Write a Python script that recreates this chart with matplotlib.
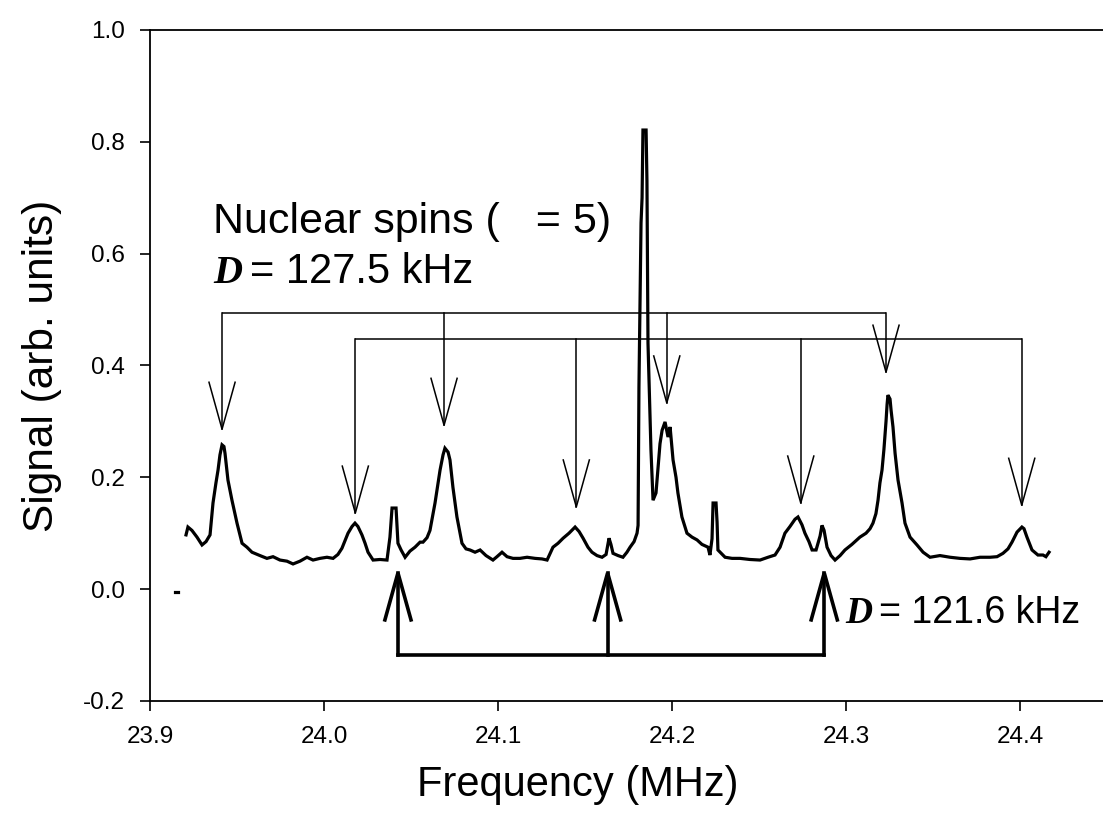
import matplotlib
matplotlib.use("Agg")
import matplotlib.pyplot as plt

plt.rcParams['font.family'] = ['Liberation Sans', 'DejaVu Sans']

# ---- spectrum data ----
freq = [23.9207, 23.9218, 23.9241, 23.9270, 23.9299, 23.9322, 23.9345, 23.9362, 23.9379, 23.9391,
        23.9402, 23.9414, 23.9425, 23.9431, 23.9448, 23.9471, 23.9500, 23.9529, 23.9557, 23.9586,
        23.9632, 23.9672, 23.9707, 23.9747, 23.9787, 23.9822, 23.9862, 23.9902, 23.9937, 23.9977,
        24.0017, 24.0052, 24.0080, 24.0103, 24.0138, 24.0161, 24.0178, 24.0195, 24.0218, 24.0236,
        24.0253, 24.0282, 24.0322, 24.0362, 24.0379, 24.0391, 24.0414, 24.0425, 24.0443, 24.0466,
        24.0494, 24.0523, 24.0552, 24.0569, 24.0592, 24.0609, 24.0638, 24.0667, 24.0684, 24.0695,
        24.0713, 24.0724, 24.0741, 24.0764, 24.0793, 24.0816, 24.0839, 24.0868, 24.0897, 24.0931,
        24.0971, 24.0994, 24.1023, 24.1052, 24.1086, 24.1126, 24.1167, 24.1213, 24.1253, 24.1282,
        24.1316, 24.1345, 24.1374, 24.1408, 24.1443, 24.1466, 24.1489, 24.1517, 24.1540, 24.1569,
        24.1598, 24.1621, 24.1638, 24.1649, 24.1661, 24.1690, 24.1718, 24.1741, 24.1759, 24.1782,
        24.1799, 24.1805, 24.1810, 24.1822, 24.1828, 24.1833, 24.1851, 24.1856, 24.1862, 24.1874,
        24.1879, 24.1891, 24.1908, 24.1920, 24.1931, 24.1943, 24.1960, 24.1977, 24.1989, 24.2006,
        24.2023, 24.2034, 24.2057, 24.2086, 24.2115, 24.2144, 24.2172, 24.2207, 24.2218, 24.2230,
        24.2236, 24.2253, 24.2259, 24.2264, 24.2305, 24.2345, 24.2391, 24.2448, 24.2506, 24.2552,
        24.2592, 24.2621, 24.2649, 24.2678, 24.2707, 24.2724, 24.2747, 24.2764, 24.2787, 24.2805,
        24.2828, 24.2851, 24.2862, 24.2874, 24.2891, 24.2914, 24.2937, 24.2966, 24.2994, 24.3034,
        24.3080, 24.3115, 24.3138, 24.3155, 24.3172, 24.3184, 24.3195, 24.3207, 24.3218, 24.3230,
        24.3236, 24.3241, 24.3253, 24.3259, 24.3270, 24.3282, 24.3299, 24.3322, 24.3339, 24.3368,
        24.3408, 24.3443, 24.3483, 24.3540, 24.3598, 24.3655, 24.3713, 24.3770, 24.3828, 24.3868,
        24.3902, 24.3931, 24.3954, 24.3983, 24.4011, 24.4023, 24.4040, 24.4069, 24.4103, 24.4132,
        24.4149, 24.4167]
signal = [0.097, 0.111, 0.105, 0.093, 0.079, 0.085, 0.097, 0.154, 0.190, 0.213,
          0.240, 0.258, 0.255, 0.243, 0.195, 0.159, 0.118, 0.082, 0.075, 0.066,
          0.060, 0.055, 0.058, 0.052, 0.050, 0.045, 0.050, 0.057, 0.052, 0.055,
          0.057, 0.055, 0.062, 0.073, 0.100, 0.112, 0.118, 0.112, 0.097, 0.082,
          0.066, 0.052, 0.053, 0.052, 0.093, 0.145, 0.145, 0.082, 0.070, 0.057,
          0.068, 0.075, 0.084, 0.084, 0.092, 0.105, 0.154, 0.213, 0.240, 0.252,
          0.245, 0.231, 0.182, 0.129, 0.082, 0.072, 0.070, 0.066, 0.070, 0.060,
          0.052, 0.058, 0.066, 0.058, 0.055, 0.055, 0.057, 0.055, 0.054, 0.052,
          0.075, 0.082, 0.091, 0.100, 0.111, 0.103, 0.091, 0.075, 0.066, 0.060,
          0.057, 0.062, 0.091, 0.080, 0.064, 0.060, 0.057, 0.066, 0.075, 0.085,
          0.100, 0.114, 0.361, 0.655, 0.700, 0.821, 0.821, 0.730, 0.440, 0.300,
          0.249, 0.159, 0.172, 0.218, 0.260, 0.284, 0.299, 0.272, 0.290, 0.231,
          0.200, 0.172, 0.129, 0.100, 0.093, 0.088, 0.080, 0.075, 0.061, 0.090,
          0.154, 0.154, 0.120, 0.070, 0.057, 0.055, 0.055, 0.053, 0.052, 0.057,
          0.061, 0.075, 0.100, 0.112, 0.125, 0.129, 0.115, 0.100, 0.085, 0.070,
          0.070, 0.095, 0.114, 0.105, 0.075, 0.060, 0.052, 0.060, 0.070, 0.080,
          0.093, 0.100, 0.108, 0.118, 0.135, 0.159, 0.190, 0.213, 0.250, 0.300,
          0.330, 0.347, 0.340, 0.320, 0.290, 0.243, 0.195, 0.154, 0.118, 0.093,
          0.079, 0.066, 0.057, 0.060, 0.057, 0.055, 0.054, 0.057, 0.057, 0.058,
          0.064, 0.072, 0.084, 0.102, 0.111, 0.108, 0.093, 0.070, 0.061, 0.061,
          0.058, 0.066]

# isolated stray point near the start
stray_freq = [23.9145, 23.9160]
stray_signal = [-0.006, -0.006]

# ---- annotation groups ----
upper_pos = [23.9414, 24.069, 24.197, 24.323]     # D = 127.5 kHz, set 1
upper_tips = [0.286, 0.293, 0.333, 0.388]
upper_bar = 0.494
lower_pos = [24.018, 24.145, 24.274, 24.401]      # D = 127.5 kHz, set 2
lower_tips = [0.136, 0.147, 0.154, 0.150]
lower_bar = 0.447
bottom_pos = [24.0425, 24.163, 24.2875]           # D = 121.6 kHz
bottom_tip = 0.029
bottom_bar = -0.118

xticks = [23.9, 24.0, 24.1, 24.2, 24.3, 24.4]
yticks = [-0.2, 0.0, 0.2, 0.4, 0.6, 0.8, 1.0]

fig = plt.figure(figsize=(11.03, 8.32), dpi=100)
ax = fig.add_axes([0.136, 0.1575, 0.864, 0.8065])

ax.plot(freq, signal, color='black', lw=2.3, solid_joinstyle='miter')
ax.plot(stray_freq, stray_signal, color='black', lw=2.3)

head_dy = 0.084
head_dx = 0.0075


def down_arrows(pos, tips, bar, lw):
    ax.plot([pos[0], pos[-1]], [bar, bar], color='black', lw=lw, solid_capstyle='butt')
    for p, t in zip(pos, tips):
        ax.plot([p, p], [bar, t], color='black', lw=lw)
        ax.plot([p - head_dx, p, p + head_dx], [t + head_dy, t, t + head_dy],
                color='black', lw=lw)


down_arrows(upper_pos, upper_tips, upper_bar, 1.1)
down_arrows(lower_pos, lower_tips, lower_bar, 1.1)

# bottom thick upward arrows
ax.plot([bottom_pos[0], bottom_pos[-1]], [bottom_bar, bottom_bar], color='black', lw=2.6)
for p in bottom_pos:
    ax.plot([p, p], [bottom_bar, bottom_tip], color='black', lw=2.6)
    ax.plot([p - head_dx, p, p + head_dx], [bottom_tip - head_dy, bottom_tip, bottom_tip - head_dy],
            color='black', lw=2.6, solid_joinstyle='miter')

# texts
ax.text(23.9362, 0.637, "Nuclear spins (   = 5)", fontsize=31, va='baseline', ha='left')
ax.text(23.9362, 0.547, "D", fontsize=29, va='baseline', ha='left',
        family='Liberation Serif', weight='bold', style='italic')
ax.text(23.9575, 0.547, "= 127.5 kHz", fontsize=30, va='baseline', ha='left')
ax.text(24.2994, -0.061, "D", fontsize=27, va='baseline', ha='left',
        family='Liberation Serif', weight='bold', style='italic')
ax.text(24.3190, -0.061, "= 121.6 kHz", fontsize=27, va='baseline', ha='left')

ax.set_xlim(23.9, 24.4477)
ax.set_ylim(-0.2, 1.0)
ax.set_xticks(xticks)
ax.set_xticklabels([f"{v:.1f}" for v in xticks])
ax.set_yticks(yticks)
ax.set_yticklabels([f"{v:.1f}" for v in yticks])
ax.tick_params(axis='both', direction='out', length=7.2, width=1.2, labelsize=17.5, pad=11)
ax.tick_params(top=False, right=False)
for s in ['left', 'bottom', 'top']:
    ax.spines[s].set_linewidth(1.3)
ax.spines['right'].set_visible(False)

ax.set_xlabel("Frequency (MHz)", fontsize=30)
ax.xaxis.set_label_coords(0.449, -0.095)
ax.xaxis.label.set_va('top')
ax.set_ylabel("Signal (arb. units)", fontsize=30.5)
ax.yaxis.set_label_coords(-0.092, 0.5)

fig.savefig("out.png", dpi=100)
